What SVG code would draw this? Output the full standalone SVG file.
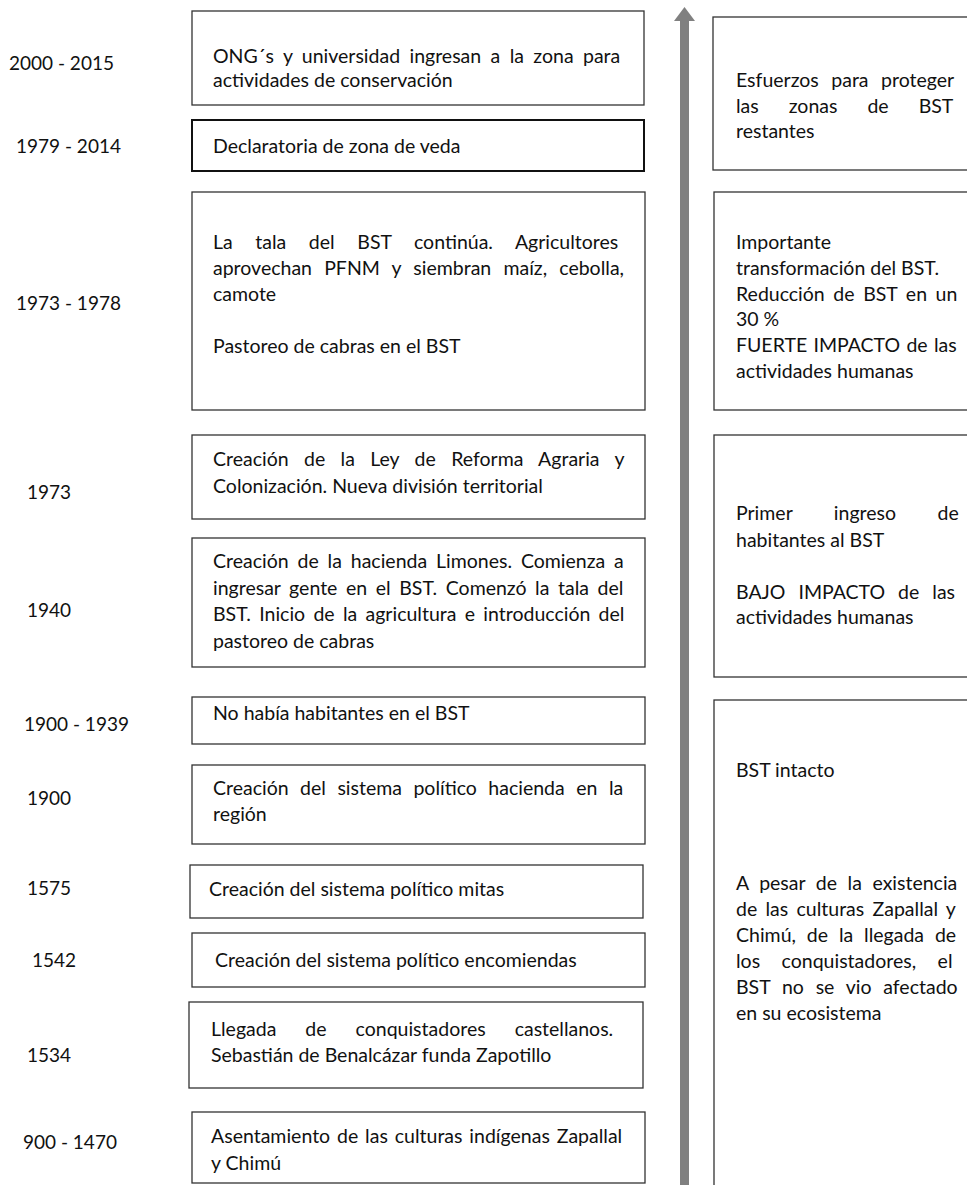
<svg xmlns="http://www.w3.org/2000/svg" width="967" height="1185" viewBox="0 0 967 1185">
  <style>
    text { font-family: Lato, "Open Sans", "Liberation Sans", sans-serif; font-size: 19.5px; fill: #111; }
    .yr { font-size: 19px; }
    .box { fill: #fff; stroke: #333; stroke-width: 1.3; }
    .box-bold { fill: #fff; stroke: #111; stroke-width: 2; }
  </style>
  <rect width="967" height="1185" fill="#fff"/>

  <!-- dates -->
  <g id="years">
    <text class="yr" x="9" y="70">2000 - 2015</text>
    <text class="yr" x="16" y="153">1979 - 2014</text>
    <text class="yr" x="16" y="310">1973 - 1978</text>
    <text class="yr" x="27" y="499">1973</text>
    <text class="yr" x="27" y="617">1940</text>
    <text class="yr" x="24" y="731">1900 - 1939</text>
    <text class="yr" x="27" y="805">1900</text>
    <text class="yr" x="27" y="895">1575</text>
    <text class="yr" x="32" y="967">1542</text>
    <text class="yr" x="27" y="1062">1534</text>
    <text class="yr" x="23" y="1149">900 - 1470</text>
  </g>

  <!-- timeline axis -->
  <g id="connectors">
    <rect x="680" y="20" width="9" height="1170" fill="#808080"/>
    <polygon points="684.5,7 695,21 674,21" fill="#808080"/>
  </g>

  <!-- events (justified lines use word-spacing) -->
  <g id="ev-2000">
    <rect class="box" x="192" y="11" width="452" height="94"/>
    <text x="213" y="63" word-spacing="4.4">ONG´s y universidad ingresan a la zona para</text>
    <text x="213" y="87">actividades de conservación</text>
  </g>
  <g id="ev-1979">
    <rect class="box-bold" x="192" y="120" width="452" height="51"/>
    <text x="213" y="153">Declaratoria de zona de veda</text>
  </g>
  <g id="ev-1973-1978">
    <rect class="box" x="192" y="192" width="453" height="218"/>
    <text x="213" y="249" word-spacing="17.6">La tala del BST continúa. Agricultores</text>
    <text x="213" y="275" word-spacing="7.2">aprovechan PFNM y siembran maíz, cebolla,</text>
    <text x="213" y="301">camote</text>
    <text x="213" y="353">Pastoreo de cabras en el BST</text>
  </g>
  <g id="ev-1973">
    <rect class="box" x="192" y="435" width="453" height="84"/>
    <text x="213" y="466" word-spacing="10.4">Creación de la Ley de Reforma Agraria y</text>
    <text x="213" y="493">Colonización. Nueva división territorial</text>
  </g>
  <g id="ev-1940">
    <rect class="box" x="192" y="538" width="453" height="129"/>
    <text x="213" y="568" word-spacing="3.9">Creación de la hacienda Limones. Comienza a</text>
    <text x="213" y="595" word-spacing="3.6">ingresar gente en el BST. Comenzó la tala del</text>
    <text x="213" y="621" word-spacing="3.3">BST. Inicio de la agricultura e introducción del</text>
    <text x="213" y="648">pastoreo de cabras</text>
  </g>
  <g id="ev-1900-1939">
    <rect class="box" x="192" y="697" width="453" height="47"/>
    <text x="213" y="720">No había habitantes en el BST</text>
  </g>
  <g id="ev-1900">
    <rect class="box" x="192" y="765" width="453" height="79"/>
    <text x="213" y="795" word-spacing="6.5">Creación del sistema político hacienda en la</text>
    <text x="213" y="821">región</text>
  </g>
  <g id="ev-1575">
    <rect class="box" x="190" y="865" width="453" height="53"/>
    <text x="209" y="896">Creación del sistema político mitas</text>
  </g>
  <g id="ev-1542">
    <rect class="box" x="192" y="933" width="453" height="54"/>
    <text x="215" y="967">Creación del sistema político encomiendas</text>
  </g>
  <g id="ev-1534">
    <rect class="box" x="189" y="1002" width="454" height="86"/>
    <text x="211" y="1036" word-spacing="24">Llegada de conquistadores castellanos.</text>
    <text x="211" y="1062">Sebastián de Benalcázar funda Zapotillo</text>
  </g>
  <g id="ev-900">
    <rect class="box" x="192" y="1112" width="453" height="71"/>
    <text x="211" y="1143" word-spacing="1.9">Asentamiento de las culturas indígenas Zapallal</text>
    <text x="211" y="1170">y Chimú</text>
  </g>

  <!-- impact periods -->
  <g id="impact-protection">
    <rect class="box" x="713" y="17" width="260" height="153"/>
    <text x="736" y="87" word-spacing="7.5">Esfuerzos para proteger</text>
    <text x="736" y="113" word-spacing="25">las zonas de BST</text>
    <text x="736" y="138">restantes</text>
  </g>
  <g id="impact-strong">
    <rect class="box" x="714" y="192" width="260" height="218"/>
    <text x="736" y="249">Importante</text>
    <text x="736" y="275">transformación del BST.</text>
    <text x="736" y="301" word-spacing="3.6">Reducción de BST en un</text>
    <text x="736" y="326">30 %</text>
    <text x="736" y="352" word-spacing="1.3">FUERTE IMPACTO de las</text>
    <text x="736" y="378">actividades humanas</text>
  </g>
  <g id="impact-low">
    <rect class="box" x="714" y="435" width="260" height="242"/>
    <text x="736" y="520" word-spacing="36.5">Primer ingreso de</text>
    <text x="736" y="547">habitantes al BST</text>
    <text x="736" y="599" word-spacing="8">BAJO IMPACTO de las</text>
    <text x="736" y="624">actividades humanas</text>
  </g>
  <g id="impact-intact">
    <rect class="box" x="714" y="700" width="260" height="500"/>
    <text x="736" y="777">BST intacto</text>
    <text x="736" y="890" word-spacing="5.6">A pesar de la existencia</text>
    <text x="736" y="916" word-spacing="3.3">de las culturas Zapallal y</text>
    <text x="736" y="942" word-spacing="5.9">Chimú, de la llegada de</text>
    <text x="736" y="968" word-spacing="16.5">los conquistadores, el</text>
    <text x="736" y="994" word-spacing="6.8">BST no se vio afectado</text>
    <text x="736" y="1020">en su ecosistema</text>
  </g>
</svg>
